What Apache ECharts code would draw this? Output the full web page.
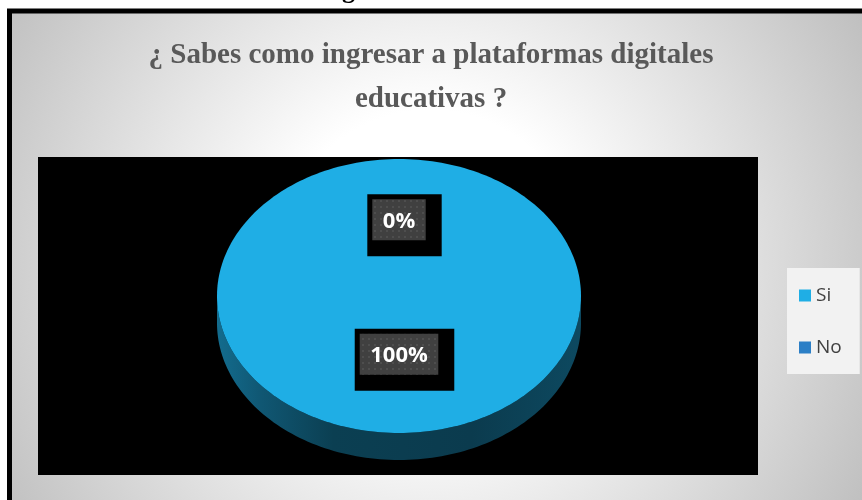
<!DOCTYPE html>
<html><head><meta charset="utf-8">
<script src="https://cdn.jsdelivr.net/npm/echarts@6/dist/echarts.min.js"></script>
<style>html,body{margin:0;padding:0;background:#fff}#c{width:862px;height:500px}</style>
</head><body><div id="c"></div>
<script>
const categories = ['Si', 'No'];
const values = [100, 0];
const percentLabels = ['100%', '0%'];
const sliceColors = ['#1FAEE5', '#2C7FC6'];
const titleText = '¿ Sabes como ingresar a plataformas digitales\neducativas ?';
const captionText = 'Figura N° 1';

const chart = echarts.init(document.getElementById('c'), null, {renderer: 'canvas'});
const total = values.reduce((a, b) => a + b, 0);
const PIE = {cx: 399, cy: 296, rx: 182, ry: 137, depth: 27};
const LABEL_FONT = 'bold 22px "Open Sans"';

// dotted pattern for label boxes
const pat = document.createElement('canvas'); pat.width = 6; pat.height = 6;
const pc = pat.getContext('2d');
pc.fillStyle = '#404040'; pc.fillRect(0, 0, 6, 6);
pc.fillStyle = '#4e4e4e'; pc.fillRect(2, 2, 2, 2);

const meas = document.createElement('canvas').getContext('2d');
meas.font = LABEL_FONT;

function ePt(a, dy) { return [PIE.cx + PIE.rx * Math.sin(a), PIE.cy - PIE.ry * Math.cos(a) + (dy || 0)]; }
function arcPts(a0, a1, dy) {
  const n = Math.max(2, Math.ceil((a1 - a0) / (Math.PI / 120)));
  const pts = [];
  for (let i = 0; i <= n; i++) pts.push(ePt(a0 + (a1 - a0) * i / n, dy));
  return pts;
}
function shade(hex, f) {
  const c = echarts.color.parse(hex);
  return 'rgb(' + Math.round(c[0] * f) + ',' + Math.round(c[1] * f) + ',' + Math.round(c[2] * f) + ')';
}

function renderSlice(params, api) {
  const si = params.seriesIndex;
  let before = 0;
  for (let k = 0; k < si; k++) before += values[k];
  const v = api.value(0);
  const a0 = before / total * 2 * Math.PI, a1 = (before + v) / total * 2 * Math.PI;
  const color = sliceColors[si];
  const children = [];
  const fs = Math.max(a0, Math.PI / 2), fe = Math.min(a1, 1.5 * Math.PI);
  if (fe > fs) {
    const top = arcPts(fs, fe, 0), bot = arcPts(fs, fe, PIE.depth).reverse();
    children.push({type: 'polygon', shape: {points: top.concat(bot)}, style: {fill: {
      type: 'linear', global: true, x: PIE.cx - PIE.rx, y: 0, x2: PIE.cx + PIE.rx, y2: 0,
      colorStops: [{offset: 0, color: shade(color, 0.62)}, {offset: 0.12, color: shade(color, 0.5)},
                   {offset: 0.32, color: shade(color, 0.36)}, {offset: 0.7, color: shade(color, 0.34)},
                   {offset: 1, color: shade(color, 0.42)}]}}});
  }
  if (v > 0) {
    const pts = v >= total ? arcPts(0, 2 * Math.PI, 0) : [[PIE.cx, PIE.cy]].concat(arcPts(a0, a1, 0));
    children.push({type: 'polygon', shape: {points: pts}, style: {fill: color}});
  }
  const mid = (a0 + a1) / 2;
  const lx = PIE.cx + 0.49 * PIE.rx * Math.sin(mid);
  const ly = PIE.cy - 9 - 0.49 * PIE.ry * Math.cos(mid);
  const txt = percentLabels[si];
  const tw = meas.measureText(txt).width;
  const w = tw + 21, h = 41;
  const gx = lx - w / 2, gy = ly - h / 2;
  children.push({type: 'rect', shape: {x: gx - 5, y: gy - 5, width: w + 21, height: h + 21}, style: {fill: '#000'}});
  children.push({type: 'rect', shape: {x: gx, y: gy, width: w, height: h}, style: {fill: {image: pat, repeat: 'repeat'}}});
  children.push({type: 'text', x: lx, y: ly + 2, style: {text: txt, fill: '#fff', font: LABEL_FONT, align: 'center', verticalAlign: 'middle'}});
  return {type: 'group', children};
}

const option = {
  animation: false,
  title: {
    text: titleText, left: 'center', top: 29,
    textStyle: {fontFamily: 'Liberation Serif', fontWeight: 'bold', fontSize: 29, color: '#595959', lineHeight: 44}
  },
  legend: {
    data: categories, orient: 'vertical', left: 787, top: 268,
    backgroundColor: '#f2f2f2', padding: [18, 18, 17, 12],
    icon: 'rect', itemWidth: 12, itemHeight: 12, itemGap: 33,
    textStyle: {fontFamily: 'Open Sans', fontSize: 19, color: '#404040', lineHeight: 12},
    selectedMode: false
  },
  graphic: [
    {type: 'rect', z: -10, shape: {x: 9.5, y: 11, width: 900, height: 600},
     style: {lineWidth: 5, stroke: '#000', fill: {type: 'radial', global: true, x: 430, y: 260, r: 500,
       colorStops: [{offset: 0, color: '#ffffff'}, {offset: 0.3, color: '#ffffff'}, {offset: 1, color: '#bfbfbf'}]}}},
    {type: 'rect', z: -9, shape: {x: 38, y: 157, width: 720, height: 318}, style: {fill: '#000'}},
    {type: 'text', z: -8, x: 319, y: -9, style: {text: captionText, font: 'bold 26px "Liberation Serif"', fill: '#000', verticalAlign: 'middle'}}
  ],
  series: categories.map((name, i) => ({
    type: 'custom', name, coordinateSystem: 'none', renderItem: renderSlice,
    data: [values[i]], itemStyle: {color: sliceColors[i]}, silent: true, z: 2 + i
  }))
};
chart.setOption(option);
</script></body></html>
